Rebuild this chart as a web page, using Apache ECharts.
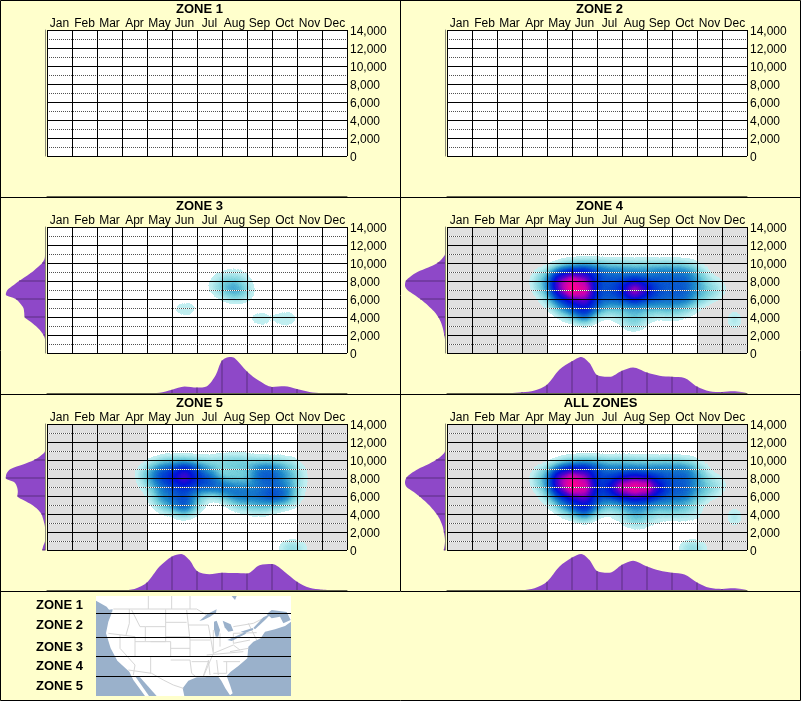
<!DOCTYPE html>
<html><head><meta charset="utf-8">
<style>html,body{margin:0;padding:0;background:#FFFFCC}#c{width:801px;height:701px}</style>
<script src="https://cdn.jsdelivr.net/npm/echarts@6/dist/echarts.min.js"></script>
</head><body><div id="c"></div>
<script>
const months=['Jan','Feb','Mar','Apr','May','Jun','Jul','Aug','Sep','Oct','Nov','Dec'];
const panelTitles=['ZONE 1','ZONE 2','ZONE 3','ZONE 4','ZONE 5','ALL ZONES'];
const elevTicks=[0,2000,4000,6000,8000,10000,12000,14000];
const offSeasonMonths=['Jan','Feb','Mar','Apr','Nov','Dec'];
const greyedPanels=[3,4,5];
const legendZones=['ZONE 1','ZONE 2','ZONE 3','ZONE 4','ZONE 5'];

// month KDE: [month position, relative density]
const monthKde3=[[0,0],[4,0],[4.5,.01],[5,.09],[5.5,.18],[6,.15],[6.4,.19],[6.75,.5],[7,.9],[7.33,1],[7.5,.97],[8,.6],[8.5,.33],[9,.17],[9.5,.19],[10,.11],[10.5,.03],[11,0],[12,0]];
const monthKde4=[[0,0],[2.5,0],[3,.02],[3.5,.07],[4,.23],[4.5,.65],[5,.88],[5.37,1],[5.7,.83],[6,.5],[6.5,.45],[7,.62],[7.44,.71],[8,.57],[8.5,.48],[9,.45],[9.5,.42],[10,.18],[10.5,.05],[11,.03],[11.45,.05],[12,.01]];
const monthKde5=[[0,0],[3,0],[3.5,.03],[4,.21],[4.5,.65],[5,.93],[5.37,1],[5.7,.83],[6,.53],[6.5,.44],[7,.48],[7.5,.47],[8,.46],[8.5,.69],[9,.72],[9.5,.51],[10,.23],[10.5,.06],[11,.01],[12,0]];
const monthKdeAll=[[0,0],[3,0],[3.5,.05],[4,.23],[4.5,.65],[5,.9],[5.37,1],[5.7,.83],[6,.53],[6.5,.48],[7,.7],[7.44,.81],[8,.65],[8.5,.54],[9,.48],[9.5,.43],[10,.21],[10.5,.06],[11,.03],[11.45,.05],[12,.01]];

// elevation KDE, bottom to top, every 500 units
const elevSteps=[0,500,1000,1500,2000,2500,3000,3500,4000,4500,5000,5500,6000,6500,7000,7500,8000,8500,9000,9500,10000,10500,11000,11500,12000,12500,13000,13500,14000];
const elevKde3=[0,0,0,0,.04,.12,.23,.37,.51,.52,.54,.62,.73,.98,.94,.8,.65,.48,.32,.19,.07,.01,0,0,0,0,0,0,0];
const elevKde4=[0,0,0,0,.02,.04,.07,.11,.17,.25,.36,.48,.62,.78,.94,1,.98,.86,.69,.42,.19,.07,0,0,0,0,0,0,0];
const elevKde5=[.07,.04,0,0,0,0,.02,.05,.09,.18,.32,.52,.69,.68,.7,.76,.98,.96,.86,.55,.27,.1,0,0,0,0,0,0,0];
const elevKdeAll=[.03,.01,0,.01,.03,.05,.09,.14,.21,.3,.4,.52,.65,.8,.96,1,.97,.85,.67,.43,.23,.08,0,0,0,0,0,0,0];

// heat: rows by elevation, columns by month position
const heatColumns=[3.5,4,4.5,5,5.5,6,6.5,7,7.5,8,8.5,9,9.5,10,10.5,11,11.5];
const heatRows=[10000,9000,8000,7000,6000,5000,4000,3000,1000,0];
const heat3=[
[0,0,0,0,0,0,0,.03,.05,.03,0,0,0,0,0,0,0],
[0,0,0,0,0,0,.03,.1,.14,.1,.02,0,0,0,0,0,0],
[0,0,0,0,0,0,.1,.28,.3,.15,0,0,0,0,0,0,0],
[0,0,0,0,0,0,.13,.32,.5,.3,.04,0,0,0,0,0,0],
[0,0,0,0,0,0,0,.1,.22,.15,.02,0,0,0,0,0,0],
[0,0,0,.14,.26,.16,0,0,0,0,0,0,0,0,0,0,0],
[0,0,0,0,.08,0,0,0,0,.12,.24,.16,.26,.16,.04,0,0],
[0,0,0,0,0,0,0,0,0,0,.1,.03,.1,.03,0,0,0],
[0,0,0,0,0,0,0,0,0,0,0,0,0,0,0,0,0],
[0,0,0,0,0,0,0,0,0,0,0,0,0,0,0,0,0]];
const heat4=[
[0,.02,.12,.22,.25,.25,.22,.22,.22,.22,.22,.22,.2,.1,.02,0,0],
[.12,.3,.55,.7,.8,.65,.5,.5,.45,.45,.5,.5,.5,.35,.12,0,0],
[.2,.4,1.2,1.6,1.2,.6,.55,.55,.6,.55,.55,.55,.55,.4,.2,.12,0],
[.18,.4,1.1,1.9,1.6,.6,.55,.85,1.6,1,.55,.55,.55,.4,.3,.2,0],
[.03,.25,.55,.8,1.1,.6,.55,.55,.7,.55,.55,.55,.55,.35,.22,.06,0],
[0,.12,.4,.6,.8,.5,.3,.35,.35,.35,.35,.35,.3,.15,0,0,0],
[0,0,.1,.3,.6,.2,.1,.22,.3,.22,.12,.2,.12,.05,0,0,.3],
[0,0,0,0,.05,0,0,.12,.3,.08,0,0,0,0,0,0,.18],
[0,0,0,0,0,0,0,0,0,0,0,0,0,0,0,0,0],
[0,0,0,0,0,0,0,0,0,0,0,0,0,0,0,0,0]];
const heat5=[
[0,.06,.2,.25,.25,.2,.22,.3,.35,.3,.2,.2,.2,.1,0,0,0],
[.08,.3,.5,.6,.8,.6,.35,.22,.28,.3,.55,.55,.4,.25,.06,0,0],
[.1,.35,.65,.85,1.2,.7,.55,.25,.2,.25,.55,.6,.4,.25,.1,0,0],
[.05,.2,.4,.55,.6,.6,.65,.65,.5,.45,.4,.45,.45,.25,.05,0,0],
[0,.12,.4,.5,.55,.3,.1,.3,.5,.55,.55,.75,.6,.25,.03,0,0],
[0,.05,.3,.5,.7,.35,.05,.05,.25,.3,.35,.3,.25,.1,0,0,0],
[0,0,.05,.12,.3,.08,0,0,.03,.1,.15,.08,0,0,0,0,0],
[0,0,0,0,0,0,0,0,0,0,0,0,0,0,0,0,0],
[0,0,0,0,0,0,0,0,0,0,0,0,.08,.12,.05,0,0],
[0,0,0,0,0,0,0,0,0,0,0,0,.3,.35,.1,0,0]];
const heatAll=[
[0,.02,.12,.22,.25,.25,.22,.25,.25,.22,.22,.22,.2,.1,.02,0,0],
[.12,.3,.55,.7,.8,.65,.5,.5,.45,.45,.5,.5,.5,.35,.12,0,0],
[.2,.4,1.2,1.6,1.2,.6,.55,.65,.8,.7,.55,.55,.55,.4,.2,.12,0],
[.18,.4,1.1,1.9,1.6,.65,.8,1.7,1.9,1.8,.9,.55,.55,.4,.3,.2,0],
[.03,.25,.55,.8,1.1,.6,.6,.7,.9,.8,.6,.55,.55,.35,.22,.06,0],
[0,.12,.4,.6,.8,.5,.3,.4,.45,.4,.35,.35,.3,.15,0,0,0],
[0,0,.1,.3,.6,.2,.1,.22,.35,.3,.22,.3,.25,.2,0,0,.3],
[0,0,0,0,.05,0,0,.12,.3,.2,.06,.02,.05,.05,0,0,.18],
[0,0,0,0,0,0,0,0,0,0,0,0,.08,.12,.05,0,0],
[0,0,0,0,0,0,0,0,0,0,0,0,.3,.35,.1,0,0]];

const heatByPanel={2:heat3,3:heat4,4:heat5,5:heatAll};
const monthKdeByPanel={2:monthKde3,3:monthKde4,4:monthKde5,5:monthKdeAll};
const elevKdeByPanel={2:elevKde3,3:elevKde4,4:elevKde5,5:elevKdeAll};

const FONT='"Liberation Sans",Arial,sans-serif';
const PURPLE='#8E48C8',DARKP='#5A2F80',BG='#FFFFCC';
const grid=[],xAxis=[],yAxis=[],series=[],geo=[],title=[],heatSeriesIdx=[];
echarts.registerMap('plot',{type:'FeatureCollection',features:[{type:'Feature',properties:{name:'p'},
  geometry:{type:'Polygon',coordinates:[[[0,0],[12,0],[12,14000],[0,14000],[0,0]]]}}]});

panelTitles.forEach((t,i)=>{
  const dx=(i%2)*400,dy=Math.floor(i/2)*197;
  title.push({text:t,left:199.5+dx+(i===5?1:0),top:dy+3,textAlign:'center',padding:0,
    textStyle:{fontSize:13,fontWeight:'bold',color:'#000',fontFamily:FONT}});
  const g=grid.length,xi=xAxis.length,yi=yAxis.length;
  grid.push({left:47+dx,top:30+dy,width:300,height:126,show:true,backgroundColor:'#fff',borderWidth:0});
  grid.push({left:5+dx,top:30+dy,width:40,height:126});
  grid.push({left:47+dx,top:160+dy,width:300,height:36});
  xAxis.push({gridIndex:g,type:'category',data:months,position:'top',z:10,
    axisLine:{show:false},axisTick:{show:false},
    axisLabel:{interval:0,margin:0,fontSize:12,color:'#000',fontFamily:FONT},
    splitLine:{show:true,interval:0,lineStyle:{color:'#000',width:1}}});
  xAxis.push({gridIndex:g+1,type:'value',inverse:true,min:0,max:1,show:false,splitLine:{show:false}});
  xAxis.push({gridIndex:g+2,type:'value',min:0,max:12,axisLine:{show:true,lineStyle:{color:'#666650',width:1}},
    axisTick:{show:false},axisLabel:{show:false},splitLine:{show:false}});
  yAxis.push({gridIndex:g,type:'value',min:0,max:14000,interval:2000,position:'right',z:9,
    axisLine:{show:false},axisTick:{show:false},axisLabel:{show:false},splitLine:{show:false},
    minorTick:{show:false,splitNumber:2},minorSplitLine:{show:true,lineStyle:{color:'#fff',width:1}}});
  yAxis.push({gridIndex:g,type:'value',min:0,max:14000,interval:2000,position:'right',z:10,
    axisLine:{show:false},axisTick:{show:false},
    axisLabel:{margin:3,verticalAlign:'top',lineHeight:4,fontSize:12,color:'#000',fontFamily:FONT,formatter:v=>elevTicks.includes(v)?v.toLocaleString('en-US'):''},
    splitLine:{show:true,lineStyle:{color:'#000',width:1}},
    minorTick:{show:false,splitNumber:2},minorSplitLine:{show:true,lineStyle:{color:'#505050',width:1,type:[1,1]}}});
  yAxis.push({gridIndex:g+1,type:'category',data:elevSteps.map(String),boundaryGap:false,position:'right',
    axisLine:{show:true,onZero:false,lineStyle:{color:'#8A8A78',width:1}},axisTick:{show:false},axisLabel:{show:false},splitLine:{show:false}});
  yAxis.push({gridIndex:g+2,type:'value',min:0,max:1,show:false,splitLine:{show:false}});

  if(greyedPanels.includes(i)){
    series.push({type:'bar',xAxisIndex:xi,yAxisIndex:yi+1,z:1,barWidth:'100%',silent:true,
      itemStyle:{color:'#E0E0E0'},data:months.map(m=>offSeasonMonths.includes(m)?14000:null)});
  }
  if(heatByPanel[i]){
    const geoIndex=geo.length;
    geo.push({map:'plot',left:47+dx,top:30+dy,width:300,height:126,aspectScale:(300/126)*(14000/12),
      roam:false,silent:true,z:0,label:{show:false},
      itemStyle:{areaColor:'rgba(0,0,0,0)',borderWidth:0,borderColor:'rgba(0,0,0,0)'}});
    const data=[];
    heatByPanel[i].forEach((row,r)=>row.forEach((v,c)=>{if(v>0)data.push([heatColumns[c],heatRows[r],v]);}));
    heatSeriesIdx.push(series.length);
    series.push({type:'heatmap',coordinateSystem:'geo',geoIndex,data,pointSize:8,blurSize:12,minOpacity:1,maxOpacity:1,z:3,silent:true});
    const mk=monthKdeByPanel[i],ek=elevKdeByPanel[i];
    series.push({type:'line',xAxisIndex:xi+2,yAxisIndex:yi+3,data:mk,smooth:.3,showSymbol:false,silent:true,z:2,
      lineStyle:{width:0},areaStyle:{color:PURPLE,opacity:1}});
    series.push({type:'bar',xAxisIndex:xi+2,yAxisIndex:yi+3,barWidth:1,silent:true,z:3,itemStyle:{color:DARKP},
      data:mk.filter(p=>Number.isInteger(p[0])&&p[1]>0&&p[0]>0&&p[0]<12)});
    series.push({type:'line',xAxisIndex:xi+1,yAxisIndex:yi+2,data:ek,smooth:.3,showSymbol:false,silent:true,z:2,
      lineStyle:{width:0},areaStyle:{color:PURPLE,opacity:1}});
    series.push({type:'bar',xAxisIndex:xi+1,yAxisIndex:yi+2,barWidth:1,silent:true,z:3,itemStyle:{color:DARKP},
      data:ek.map((v,k)=>(elevSteps[k]%2000===0&&v>0)?v:null)});
  }
});

// decorative inset map, outline traced in picture units
const mapLand=[[288,18],[873,18],[873,95],[855,108],[825,118],[795,125],[782,145],[760,155],[745,170],[742,205],[715,228],[692,245],[680,258],[690,285],[698,310],[690,316],[676,295],[664,272],[655,260],[640,258],[615,262],[590,262],[565,272],[548,295],[553,318],[435,318],[400,270],[388,245],[352,212],[332,175],[318,130],[325,95],[335,70],[320,50],[288,32]];
const mapWater=[
[[405,258],[420,262],[470,318],[447,318]],
[[598,93],[622,72],[650,58],[648,68],[630,80],[610,90]],
[[642,95],[650,92],[660,120],[655,140],[647,140],[642,118]],
[[668,92],[692,103],[700,122],[685,125],[674,112]],
[[682,150],[735,127],[738,131],[695,153]],
[[722,125],[758,114],[760,119],[735,129]],
[[760,114],[790,82],[815,70],[795,90],[765,118]],
[[800,72],[815,60],[860,66],[872,90],[850,100],[840,80],[815,85]],
[[695,18],[710,18],[705,30]],
[[322,60],[338,58],[336,68]]];
const mapBorders=[
[[340,57],[590,57],[620,75]],[[700,110],[760,100],[790,85]],
[[445,18],[445,57]],[[515,18],[515,57]],[[570,18],[570,57]],
[[388,57],[388,100],[378,135]],[[395,60],[420,110],[436,110],[436,155],[497,155],[497,58]],[[436,110],[497,110]],
[[497,97],[560,97]],[[497,140],[570,140]],[[560,60],[565,105],[570,150],[570,200]],[[452,155],[512,155],[512,200],[452,200],[452,250]],
[[325,130],[405,140],[405,200]],[[405,155],[436,155]],[[360,135],[360,175],[405,225],[400,255]],[[385,240],[455,250],[490,270],[520,285],[550,295]],
[[512,210],[570,210],[575,250],[590,262]],[[512,175],[570,175]],[[565,105],[625,105]],[[570,150],[630,150]],[[575,215],[625,215],[610,258]],
[[625,105],[640,190],[610,260]],[[640,120],[640,185]],[[660,130],[660,170]],[[700,130],[700,160]],[[640,190],[700,165],[720,180]],[[620,195],[730,185]],
[[690,185],[745,175]],[[640,250],[680,250]],[[625,210],[630,255]],[[650,210],[655,255]],[[680,215],[680,250]],[[670,215],[720,215]],
[[745,100],[770,150]],[[700,130],[770,128]],[[700,160],[750,150]]];
const zoneEdgeY=[613.5,637.5,656.5,676.5];
const legendY=[605,625,647,666,686];

const graphicEls=[
 {type:'rect',silent:true,z:20,shape:{x:.5,y:.5,width:800,height:700},style:{fill:null,stroke:'#000',lineWidth:1}},
 {type:'line',silent:true,z:20,shape:{x1:400.5,y1:0,x2:400.5,y2:591},style:{stroke:'#000',lineWidth:1}},
 ...[197.5,394.5,591.5].map(y=>({type:'line',silent:true,z:20,shape:{x1:0,y1:y,x2:801,y2:y},style:{stroke:'#000',lineWidth:1}})),
 {type:'group',x:0,y:590,scaleX:1/3,scaleY:1/3,silent:true,z:20,children:[
   {type:'rect',shape:{x:288,y:18,width:585,height:300},style:{fill:'#9AB1CB'}},
   {type:'polygon',shape:{points:mapLand},style:{fill:'#fff'}},
   ...mapBorders.map(p=>({type:'polyline',shape:{points:p},style:{stroke:'#D6D6D6',lineWidth:3,fill:null}})),
   ...mapWater.map(p=>({type:'polygon',shape:{points:p},style:{fill:'#9AB1CB'}}))
 ]},
 ...zoneEdgeY.map(y=>({type:'line',silent:true,z:21,shape:{x1:96,y1:y,x2:291,y2:y},style:{stroke:'#000',lineWidth:1}})),
 ...legendZones.map((t,k)=>({type:'text',silent:true,z:21,x:83,y:legendY[k],style:{text:t,align:'right',verticalAlign:'middle',font:'bold 13px '+FONT,fill:'#000'}}))
];

const chart=echarts.init(document.getElementById('c'),null,{renderer:'canvas'});
chart.setOption({animation:false,backgroundColor:BG,title,grid,xAxis,yAxis,geo,series,tooltip:{show:false},
  visualMap:{type:'continuous',show:false,min:0,max:2,seriesIndex:heatSeriesIdx,
    inRange:{color:['rgba(205,242,244,0)','rgba(190,238,240,.7)','#72CEDA','#1C88CA','#0044D0','#0010D8','#5000CC','#C000B4','#FF0090','#FF0060','#FF0050']}},
  graphic:{elements:graphicEls}});
</script></body></html>
